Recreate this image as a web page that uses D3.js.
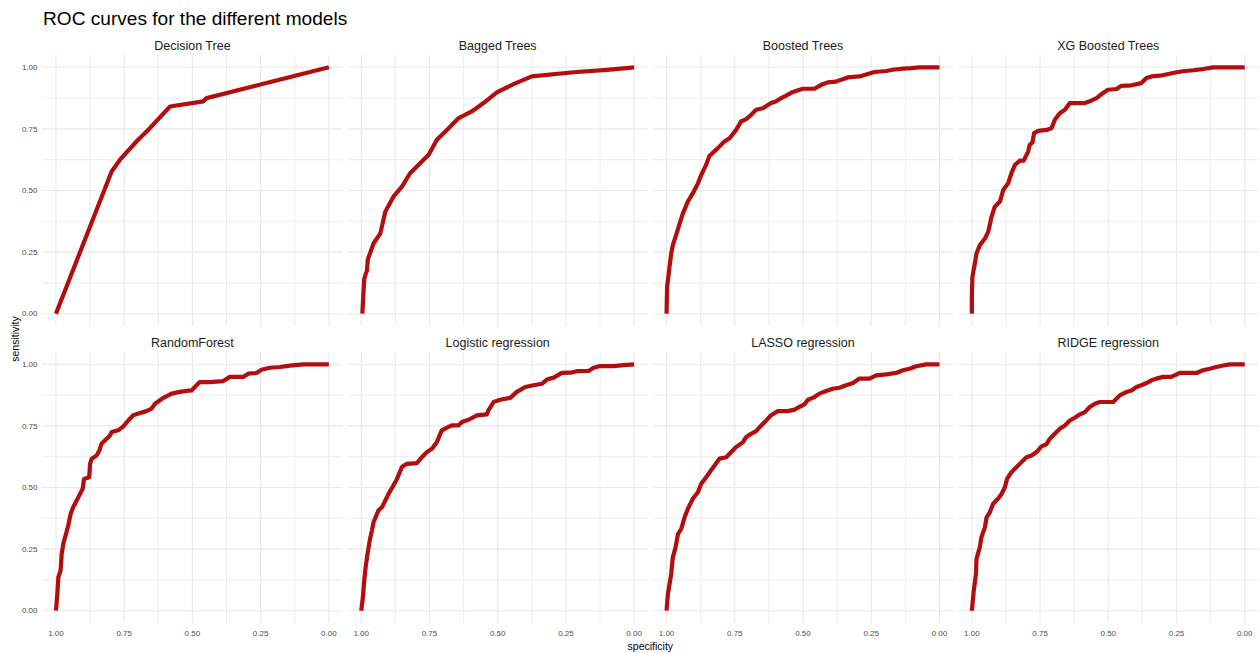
<!DOCTYPE html>
<html>
<head>
<meta charset="utf-8">
<script src="https://cdn.jsdelivr.net/npm/d3@7"></script>
<style>
  html, body { margin: 0; padding: 0; background: #fff; }
  svg { display: block; font-family: "Liberation Sans", Arial, sans-serif; }
</style>
</head>
<body>
<svg id="chart" width="1260" height="653"></svg>
<script>
// ROC curves: each model is a list of [specificity, sensitivity] points
const modelNames = [
  "Decision Tree", "Bagged Trees", "Boosted Trees", "XG Boosted Trees",
  "RandomForest", "Logistic regression", "LASSO regression", "RIDGE regression"
];

const decisionTree = [
  [1, 0], [0.796, 0.577], [0.766, 0.624], [0.705, 0.699], [0.656, 0.753],
  [0.582, 0.841], [0.460, 0.862], [0.448, 0.875], [0, 1]
];

const baggedTrees = [
  [0.996, 0], [0.989, 0.142], [0.979, 0.176], [0.976, 0.220], [0.955, 0.285],
  [0.930, 0.326], [0.912, 0.414], [0.882, 0.475], [0.851, 0.516], [0.821, 0.570],
  [0.753, 0.645], [0.723, 0.706], [0.686, 0.746], [0.643, 0.794], [0.595, 0.821],
  [0.552, 0.855], [0.503, 0.898], [0.442, 0.932], [0.375, 0.963], [0.222, 0.980],
  [0.100, 0.990], [0, 1]
];

const boostedTrees = [
  [1, 0], [0.998, 0.109], [0.989, 0.190], [0.983, 0.244], [0.977, 0.278],
  [0.965, 0.319], [0.952, 0.366], [0.940, 0.407], [0.922, 0.455], [0.904, 0.488],
  [0.885, 0.529], [0.873, 0.563], [0.855, 0.604], [0.843, 0.640], [0.812, 0.672],
  [0.788, 0.699], [0.769, 0.712], [0.745, 0.746], [0.727, 0.780], [0.708, 0.790],
  [0.690, 0.807], [0.672, 0.828], [0.647, 0.834], [0.617, 0.855], [0.598, 0.862],
  [0.580, 0.875], [0.562, 0.885], [0.537, 0.900], [0.501, 0.913], [0.458, 0.913],
  [0.433, 0.929], [0.409, 0.939], [0.379, 0.942], [0.360, 0.950], [0.336, 0.959],
  [0.293, 0.963], [0.238, 0.981], [0.195, 0.985], [0.171, 0.990], [0.134, 0.995],
  [0.104, 0.997], [0.073, 1], [0, 1]
];

const xgBoostedTrees = [
  [1, 0], [1, 0.068], [0.998, 0.149], [0.989, 0.204], [0.983, 0.244],
  [0.971, 0.278], [0.952, 0.305], [0.940, 0.332], [0.928, 0.393], [0.916, 0.434],
  [0.897, 0.455], [0.885, 0.502], [0.867, 0.529], [0.855, 0.570], [0.842, 0.604],
  [0.824, 0.621], [0.810, 0.621], [0.794, 0.658], [0.788, 0.685], [0.778, 0.695],
  [0.772, 0.733], [0.757, 0.742], [0.727, 0.746], [0.708, 0.753], [0.696, 0.787],
  [0.678, 0.814], [0.659, 0.828], [0.641, 0.855], [0.586, 0.855], [0.568, 0.862],
  [0.543, 0.875], [0.519, 0.896], [0.501, 0.909], [0.470, 0.912], [0.452, 0.925],
  [0.415, 0.927], [0.379, 0.936], [0.360, 0.957], [0.342, 0.963], [0.311, 0.966],
  [0.275, 0.974], [0.250, 0.980], [0.226, 0.984], [0.189, 0.988], [0.153, 0.993],
  [0.116, 1], [0, 1]
];

const randomForest = [
  [1, 0], [0.995, 0.068], [0.991, 0.136], [0.983, 0.163], [0.979, 0.230],
  [0.973, 0.271], [0.963, 0.312], [0.955, 0.346], [0.946, 0.393], [0.937, 0.420],
  [0.924, 0.447], [0.912, 0.474], [0.902, 0.495], [0.897, 0.535], [0.878, 0.542],
  [0.875, 0.596], [0.869, 0.617], [0.851, 0.630], [0.841, 0.650], [0.833, 0.678],
  [0.821, 0.691], [0.802, 0.711], [0.796, 0.725], [0.772, 0.732], [0.753, 0.748],
  [0.735, 0.772], [0.717, 0.793], [0.692, 0.802], [0.668, 0.810], [0.650, 0.820],
  [0.637, 0.840], [0.619, 0.854], [0.601, 0.867], [0.576, 0.881], [0.546, 0.888],
  [0.521, 0.892], [0.503, 0.894], [0.485, 0.915], [0.473, 0.928], [0.436, 0.928],
  [0.387, 0.932], [0.363, 0.949], [0.314, 0.949], [0.295, 0.962], [0.265, 0.965],
  [0.247, 0.978], [0.216, 0.986], [0.179, 0.989], [0.143, 0.995], [0.094, 1], [0, 1]
];

const logisticRegression = [
  [1, 0], [0.994, 0.054], [0.989, 0.122], [0.984, 0.176], [0.977, 0.230],
  [0.969, 0.285], [0.961, 0.325], [0.955, 0.359], [0.937, 0.407], [0.924, 0.420],
  [0.912, 0.447], [0.900, 0.474], [0.882, 0.508], [0.869, 0.535], [0.851, 0.583],
  [0.833, 0.596], [0.796, 0.599], [0.778, 0.623], [0.759, 0.644], [0.741, 0.657],
  [0.723, 0.684], [0.705, 0.732], [0.686, 0.743], [0.668, 0.752], [0.643, 0.752],
  [0.631, 0.766], [0.607, 0.775], [0.576, 0.793], [0.540, 0.797], [0.534, 0.813],
  [0.515, 0.847], [0.491, 0.856], [0.454, 0.864], [0.430, 0.888], [0.399, 0.908],
  [0.369, 0.915], [0.338, 0.921], [0.320, 0.938], [0.295, 0.946], [0.265, 0.965],
  [0.234, 0.966], [0.210, 0.972], [0.167, 0.973], [0.149, 0.986], [0.125, 0.993],
  [0.076, 0.993], [0.039, 0.997], [0, 1]
];

const lassoRegression = [
  [1, 0], [0.995, 0.068], [0.989, 0.108], [0.983, 0.149], [0.977, 0.217],
  [0.967, 0.257], [0.958, 0.312], [0.946, 0.332], [0.934, 0.379], [0.922, 0.413],
  [0.904, 0.454], [0.885, 0.481], [0.873, 0.515], [0.855, 0.542], [0.842, 0.562],
  [0.824, 0.589], [0.806, 0.617], [0.781, 0.623], [0.763, 0.644], [0.745, 0.664],
  [0.720, 0.684], [0.708, 0.705], [0.690, 0.718], [0.672, 0.729], [0.653, 0.752],
  [0.635, 0.772], [0.617, 0.793], [0.592, 0.810], [0.556, 0.810], [0.531, 0.816],
  [0.513, 0.827], [0.495, 0.837], [0.482, 0.856], [0.458, 0.867], [0.440, 0.881],
  [0.415, 0.892], [0.391, 0.901], [0.366, 0.905], [0.342, 0.915], [0.317, 0.924],
  [0.293, 0.942], [0.256, 0.942], [0.232, 0.955], [0.195, 0.959], [0.159, 0.965],
  [0.134, 0.976], [0.110, 0.982], [0.085, 0.992], [0.049, 1], [0, 1]
];

const ridgeRegression = [
  [1, 0], [0.993, 0.081], [0.985, 0.149], [0.983, 0.210], [0.971, 0.257],
  [0.965, 0.298], [0.952, 0.339], [0.946, 0.379], [0.934, 0.400], [0.922, 0.434],
  [0.904, 0.454], [0.891, 0.474], [0.879, 0.501], [0.871, 0.535], [0.855, 0.562],
  [0.836, 0.583], [0.818, 0.603], [0.800, 0.623], [0.781, 0.630], [0.763, 0.644],
  [0.745, 0.667], [0.727, 0.675], [0.714, 0.698], [0.696, 0.718], [0.678, 0.738],
  [0.659, 0.752], [0.641, 0.772], [0.623, 0.783], [0.604, 0.797], [0.586, 0.806],
  [0.568, 0.827], [0.549, 0.840], [0.531, 0.847], [0.482, 0.847], [0.458, 0.874],
  [0.433, 0.888], [0.415, 0.894], [0.397, 0.908], [0.379, 0.915], [0.360, 0.924],
  [0.342, 0.935], [0.324, 0.942], [0.299, 0.949], [0.269, 0.949], [0.238, 0.965],
  [0.177, 0.965], [0.153, 0.976], [0.128, 0.982], [0.104, 0.989], [0.079, 0.995],
  [0.055, 1], [0, 1]
];

const curves = [
  decisionTree, baggedTrees, boostedTrees, xgBoostedTrees,
  randomForest, logisticRegression, lassoRegression, ridgeRegression
];

const majorTicks = [0, 0.25, 0.5, 0.75, 1];
const minorTicks = [0.125, 0.375, 0.625, 0.875];

const titleText = "ROC curves for the different models";
const xTitle = "specificity";
const yTitle = "sensitivity";

// ---- layout ----
const svg = d3.select("#chart");
const nCols = 4;
const panelLeft = 42.3;
const panelW = 300.2;
const panelGapX = 5.1;
const panelH = 271;
const rowTops = [55, 352];
const lineColor = "#b30d0d";

// specificity runs right-to-left; 5% padding on both scales
const x = d3.scaleLinear().domain([1.05, -0.05]).range([0, panelW]);
const y = d3.scaleLinear().domain([-0.05, 1.05]).range([panelH, 0]);
const fmt = d3.format(".2f");

svg.append("text")
  .attr("x", 43).attr("y", 25)
  .attr("font-size", 19.1)
  .attr("fill", "#000")
  .text(titleText);

const line = d3.line().x(d => x(d[0])).y(d => y(d[1]));

modelNames.forEach((name, i) => {
  const col = i % nCols, row = Math.floor(i / nCols);
  const px = panelLeft + col * (panelW + panelGapX);
  const py = rowTops[row];
  const g = svg.append("g").attr("transform", `translate(${px},${py})`);

  // minor grid
  g.selectAll(".vminor").data(minorTicks).join("line")
    .attr("x1", d => x(d)).attr("x2", d => x(d))
    .attr("y1", 0).attr("y2", panelH)
    .attr("stroke", "#ebebeb").attr("stroke-width", 0.9);
  g.selectAll(".hminor").data(minorTicks).join("line")
    .attr("y1", d => y(d)).attr("y2", d => y(d))
    .attr("x1", 0).attr("x2", panelW)
    .attr("stroke", "#ebebeb").attr("stroke-width", 0.9);

  // major grid
  g.selectAll(".vmajor").data(majorTicks).join("line")
    .attr("x1", d => x(d)).attr("x2", d => x(d))
    .attr("y1", 0).attr("y2", panelH)
    .attr("stroke", "#e8e8e8").attr("stroke-width", 1.1);
  g.selectAll(".hmajor").data(majorTicks).join("line")
    .attr("y1", d => y(d)).attr("y2", d => y(d))
    .attr("x1", 0).attr("x2", panelW)
    .attr("stroke", "#e8e8e8").attr("stroke-width", 1.1);

  // strip label
  g.append("text")
    .attr("x", panelW / 2).attr("y", -5)
    .attr("text-anchor", "middle")
    .attr("font-size", 12.5)
    .attr("fill", "#1a1a1a")
    .text(name);

  // y tick labels on the left column
  if (col === 0) {
    g.selectAll(".ylab").data(majorTicks).join("text")
      .attr("x", -4.8).attr("y", d => y(d))
      .attr("dy", "0.35em")
      .attr("text-anchor", "end")
      .attr("font-size", 8)
      .attr("fill", "#4d4d4d")
      .text(d => fmt(d));
  }
  // x tick labels on the bottom row
  if (row === 1) {
    g.selectAll(".xlab").data(majorTicks).join("text")
      .attr("x", d => x(d)).attr("y", panelH + 12.5)
      .attr("text-anchor", "middle")
      .attr("font-size", 8)
      .attr("fill", "#4d4d4d")
      .text(d => fmt(d));
  }

  // ROC curve
  g.append("path")
    .datum(curves[i])
    .attr("d", line)
    .attr("fill", "none")
    .attr("stroke", lineColor)
    .attr("stroke-width", 4.2)
    .attr("stroke-linejoin", "round");
});

// axis titles
const plotRight = panelLeft + nCols * panelW + (nCols - 1) * panelGapX;
svg.append("text")
  .attr("x", (panelLeft + plotRight) / 2).attr("y", 649.5)
  .attr("text-anchor", "middle")
  .attr("font-size", 10.5)
  .attr("fill", "#000")
  .text(xTitle);

svg.append("text")
  .attr("transform", `translate(18.5,${(rowTops[0] + rowTops[1] + panelH) / 2}) rotate(-90)`)
  .attr("text-anchor", "middle")
  .attr("font-size", 10.5)
  .attr("fill", "#000")
  .text(yTitle);
</script>
</body>
</html>
